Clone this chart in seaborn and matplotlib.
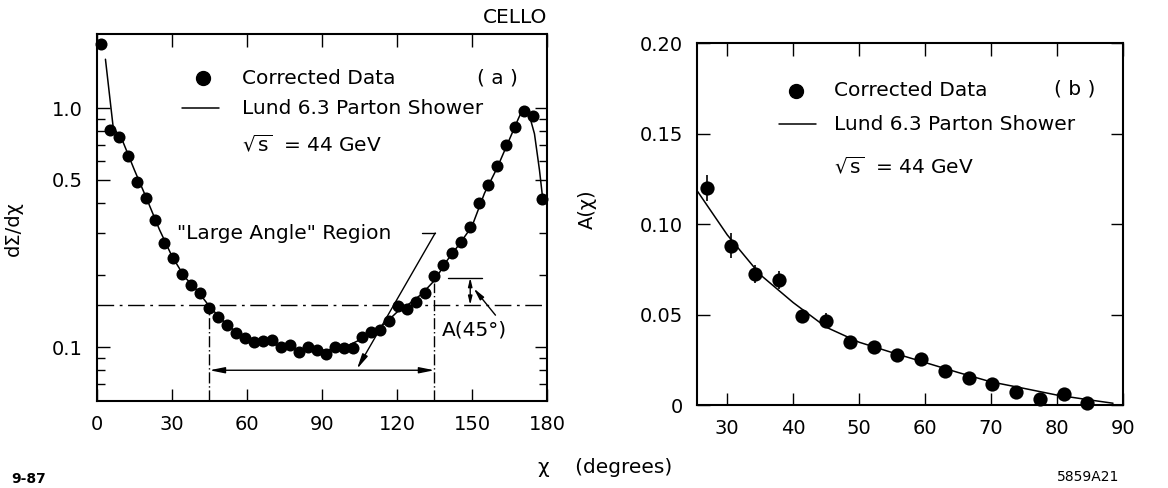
import numpy as np
import pandas as pd
import matplotlib
matplotlib.use("Agg")
import matplotlib.pyplot as plt
import seaborn as sns

sns.set_style("ticks")
plt.rcParams['font.family'] = ['DejaVu Sans']
plt.rcParams['text.color'] = 'k'
plt.rcParams['axes.labelcolor'] = 'k'
plt.rcParams['xtick.color'] = 'k'
plt.rcParams['ytick.color'] = 'k'

# panel (a): dSigma/dchi, corrected data (bin centres in degrees)
chi_a = [1.8, 5.4, 9.0, 12.6, 16.2, 19.8, 23.4, 27.0, 30.6, 34.2, 37.8, 41.4, 45.0,
         48.6, 52.2, 55.8, 59.4, 63.0, 66.6, 70.2, 73.8, 77.4, 81.0, 84.6, 88.2, 91.8,
         95.4, 99.0, 102.6, 106.2, 109.8, 113.4, 117.0, 120.6, 124.2, 127.8, 131.4,
         135.0, 138.6, 142.2, 145.8, 149.4, 153.0, 156.6, 160.2, 163.8, 167.4, 171.0,
         174.6, 178.2]
eec_a = [1.85, 0.81, 0.76, 0.63, 0.49, 0.42, 0.34, 0.273, 0.235, 0.203, 0.182, 0.169,
         0.146, 0.134, 0.124, 0.114, 0.109, 0.105, 0.106, 0.107, 0.100, 0.102, 0.095,
         0.100, 0.097, 0.094, 0.100, 0.0995, 0.099, 0.110, 0.116, 0.118, 0.128, 0.148,
         0.145, 0.155, 0.168, 0.198, 0.22, 0.247, 0.276, 0.319, 0.40, 0.476, 0.572,
         0.70, 0.835, 0.97, 0.926, 0.415]

# panel (a): Lund 6.3 parton shower curve
lund_chi_a = [3.4, 6.5, 10, 15, 20, 25, 30, 35, 40, 45, 50, 55, 60, 65, 70, 75, 80, 85,
              90, 95, 100, 105, 110, 115, 120, 125, 130, 135, 140, 145, 150, 155, 160,
              165, 168.5, 170.5, 172.5, 175, 177, 178.5]
lund_eec_a = [1.6, 0.83, 0.74, 0.55, 0.415, 0.31, 0.24, 0.197, 0.173, 0.148, 0.130,
              0.117, 0.109, 0.105, 0.103, 0.100, 0.098, 0.097, 0.097, 0.098, 0.101,
              0.107, 0.115, 0.125, 0.140, 0.152, 0.167, 0.19, 0.23, 0.27, 0.32, 0.44,
              0.56, 0.74, 0.90, 1.0, 0.97, 0.78, 0.55, 0.40]

# panel (b): asymmetry A(chi)
chi_b = [27.0, 30.6, 34.2, 37.8, 41.4, 45.0, 48.6, 52.2, 55.8, 59.4, 63.0, 66.6, 70.2,
         73.8, 77.4, 81.0, 84.6]
asym_b = [0.120, 0.088, 0.0725, 0.069, 0.049, 0.0466, 0.035, 0.032, 0.0274, 0.0252,
          0.0188, 0.015, 0.0119, 0.007, 0.0031, 0.006, 0.0013]
asym_err = [0.007, 0.007, 0.005, 0.005, 0.003, 0.004, 0.003, 0.003, 0.002, 0.003,
            0.002, 0.002, 0.002, 0.002, 0.002, 0.002, 0.002]

lund_chi_b = [25.5, 30, 35, 40, 45, 50, 55, 60, 65, 70, 75, 80, 85, 88.5]
lund_asym_b = [0.118, 0.094, 0.072, 0.0566, 0.043, 0.0347, 0.029, 0.0235, 0.018,
               0.0128, 0.0092, 0.0055, 0.0028, 0.001]

df_a = pd.DataFrame({"chi": chi_a, "eec": eec_a})
lund_a = pd.DataFrame({"chi": lund_chi_a, "eec": lund_eec_a})
df_b = pd.DataFrame({"chi": chi_b, "asym": asym_b, "err": asym_err})
lund_b = pd.DataFrame({"chi": lund_chi_b, "asym": lund_asym_b})

fig = plt.figure(figsize=(11.68, 4.88), dpi=100)
ax1 = fig.add_axes([0.0830, 0.1783, 0.3853, 0.752])
ax2 = fig.add_axes([0.5967, 0.170, 0.3647, 0.7418])

fs_tick = 14
fs_txt = 14.5

# ---- panel (a)
sns.lineplot(data=lund_a, x="chi", y="eec", ax=ax1, color="k", lw=1.1, sort=False)
sns.scatterplot(data=df_a, x="chi", y="eec", ax=ax1, color="k", s=75,
                edgecolor="k", linewidth=0, zorder=3, clip_on=False)
ax1.set_yscale("log")
ax1.set_xlim(0, 180)
ax1.set_ylim(0.0595, 2.04)
ax1.set_xticks([0, 30, 60, 90, 120, 150, 180])
ax1.set_xticklabels(["0", "30", "60", "90", "120", "150", "180"])
ax1.set_yticks([0.1, 0.5, 1.0])
ax1.set_yticklabels(["0.1", "0.5", "1.0"])
ax1.yaxis.set_minor_locator(matplotlib.ticker.FixedLocator(
    [0.07, 0.08, 0.09, 0.2, 0.3, 0.4, 0.6, 0.7, 0.8, 0.9]))
ax1.yaxis.set_minor_formatter(matplotlib.ticker.NullFormatter())
ax1.set_xlabel("")
ax1.set_ylabel("dΣ/dχ", fontsize=fs_tick)
ax1.yaxis.set_label_coords(-0.165, 0.47)

# reference lines / large angle region
ax1.axhline(0.15, color="k", lw=1.0, ls=(0, (12, 4, 2, 4)))
ax1.plot([45, 45], [0.0595, 0.15], color="k", lw=1.0, ls=(0, (8, 2, 1, 2)))
ax1.plot([135, 135], [0.0595, 0.185], color="k", lw=1.0, ls=(0, (8, 2, 1, 2)))
ax1.annotate("", xy=(45, 0.08), xytext=(135, 0.08),
             arrowprops=dict(arrowstyle="<|-|>,head_length=0.9,head_width=0.18",
                             color="k", lw=1.0, shrinkA=0, shrinkB=0))
ax1.text(32, 0.30, '"Large Angle" Region', fontsize=fs_txt, va="center", ha="left")
ax1.plot([130, 135.3], [0.30, 0.30], color="k", lw=1.0)
ax1.annotate("", xy=(104, 0.081), xytext=(135.3, 0.30),
             arrowprops=dict(arrowstyle="-|>,head_length=0.9,head_width=0.18",
                             color="k", lw=1.0, shrinkA=0, shrinkB=0))

# A(45 deg) marker
ax1.plot([140.6, 154], [0.195, 0.195], color="k", lw=1.0)
ax1.annotate("", xy=(149.3, 0.15), xytext=(149.3, 0.195),
             arrowprops=dict(arrowstyle="<|-|>,head_length=0.5,head_width=0.12",
                             color="k", lw=1.0, shrinkA=0, shrinkB=0))
ax1.annotate("", xy=(150.7, 0.176), xytext=(159.4, 0.136),
             arrowprops=dict(arrowstyle="-|>,head_length=0.7,head_width=0.15",
                             color="k", lw=1.0, shrinkA=0, shrinkB=0))
ax1.text(138, 0.118, "A(45°)", fontsize=fs_txt, va="center", ha="left")

# legend block (a)
ax1.plot([42.4], [1.335], "o", color="k", ms=10)
ax1.text(58, 1.335, "Corrected Data", fontsize=fs_txt, va="center")
ax1.plot([34, 49], [1.0, 1.0], color="k", lw=1.1)
ax1.text(58, 1.0, "Lund 6.3 Parton Shower", fontsize=fs_txt, va="center")
ax1.text(58, 0.70, r"$\sqrt{\rm s}$  = 44 GeV", fontsize=fs_txt, va="center")
ax1.text(152, 1.335, "( a )", fontsize=fs_txt, va="center")
ax1.text(1.0, 1.02, "CELLO", transform=ax1.transAxes, fontsize=fs_txt,
         ha="right", va="bottom")

# ---- panel (b)
ax2.errorbar(df_b["chi"], df_b["asym"], yerr=df_b["err"], fmt="none",
             ecolor="k", elinewidth=1.2, capsize=0)
sns.lineplot(data=lund_b, x="chi", y="asym", ax=ax2, color="k", lw=1.1)
sns.scatterplot(data=df_b, x="chi", y="asym", ax=ax2, color="k", s=105,
                edgecolor="k", linewidth=0, zorder=3, clip_on=False)
ax2.set_xlim(25.4, 90)
ax2.set_ylim(0, 0.2)
ax2.set_xticks([30, 40, 50, 60, 70, 80, 90])
ax2.set_yticks([0, 0.05, 0.10, 0.15, 0.20])
ax2.set_yticklabels(["0", "0.05", "0.10", "0.15", "0.20"])
ax2.set_xlabel("")
ax2.set_ylabel("A(χ)", fontsize=fs_tick)
ax2.yaxis.set_label_coords(-0.235, 0.54)

ax2.plot([40.4], [0.1736], "o", color="k", ms=10)
ax2.text(46.2, 0.1736, "Corrected Data", fontsize=fs_txt, va="center")
ax2.plot([37.8, 43.4], [0.155, 0.155], color="k", lw=1.1)
ax2.text(46.2, 0.155, "Lund 6.3 Parton Shower", fontsize=fs_txt, va="center")
ax2.text(46.2, 0.1315, r"$\sqrt{\rm s}$  = 44 GeV", fontsize=fs_txt, va="center")
ax2.text(79.5, 0.1745, "( b )", fontsize=fs_txt, va="center")

for ax in (ax1, ax2):
    for sp in ax.spines.values():
        sp.set_linewidth(1.5)
        sp.set_color("k")
        sp.set_visible(True)
    ax.tick_params(which="major", direction="in", length=9, width=1.0,
                   top=True, right=True, labelsize=fs_tick, pad=10, colors="k")
    ax.tick_params(which="minor", direction="in", length=6, width=1.0,
                   top=True, right=True)
ax1.tick_params(axis="x", which="minor", bottom=False, top=False)

fig.text(0.4606, 0.043, "χ    (degrees)", fontsize=fs_txt, ha="left", va="center")
fig.text(0.905, 0.022, "5859A21", fontsize=10, ha="left", va="center")
fig.text(0.010, 0.018, "9-87", fontsize=10, ha="left", va="center", weight="bold")

fig.savefig("out.png", dpi=100)
